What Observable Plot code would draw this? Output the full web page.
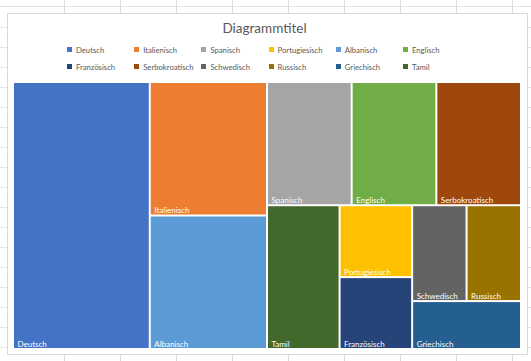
<!DOCTYPE html>
<html>
<head>
<meta charset="utf-8">
<script src="https://cdn.jsdelivr.net/npm/d3@7"></script>
<script src="https://cdn.jsdelivr.net/npm/@observablehq/plot@0.6"></script>
<style>
  html, body { margin: 0; padding: 0; }
  body { width: 531px; height: 361px; overflow: hidden; font-family: Lato, "Liberation Sans", sans-serif; }
  #sheet {
    position: relative; width: 531px; height: 361px; background-color: #fff;
    background-image:
      repeating-linear-gradient(to right, transparent 0, transparent 55px, #dadada 55px, #dadada 56px),
      repeating-linear-gradient(to bottom, transparent 0, transparent 19px, #e4e4e4 19px, #e4e4e4 20px);
    background-position: 9px 0, 0 8px;
  }
  #box {
    position: absolute; left: 7px; top: 13px; width: 519px; height: 340px;
    background: #fff; border: 1px solid #d9d9d9;
  }
  #title {
    position: absolute; left: 0; top: 6px; width: 513px; text-align: center;
    font-size: 13.5px; color: #595959; line-height: 16px;
  }
  .lg { position: absolute; font-size: 7.7px; color: #595959; line-height: 10px; white-space: nowrap; }
  .lg span.sw { display: inline-block; width: 5px; height: 5px; margin-right: 4px; vertical-align: 1px; }
  #plot { position: absolute; left: 13px; top: 82px; }
</style>
</head>
<body>
<div id="sheet">
  <div id="box"><div id="title">Diagrammtitel</div></div>
  <div id="legend"></div>
  <div id="plot"></div>
</div>
<script>
const languages = ["Deutsch", "Italienisch", "Spanisch", "Portugiesisch", "Albanisch", "Englisch",
                   "Französisch", "Serbokroatisch", "Schwedisch", "Russisch", "Griechisch", "Tamil"];
const values = [7, 3, 2, 1, 3, 2, 1, 2, 1, 1, 1, 2];
const colors = ["#4472C4", "#ED7D31", "#A5A5A5", "#FFC000", "#5B9BD5", "#70AD47",
                "#264478", "#9E480E", "#636363", "#997300", "#255E91", "#43682B"];
const title = "Diagrammtitel";

const W = 508, H = 267;

// legend (row-major, 6 columns)
const legend = document.getElementById("legend");
languages.forEach((name, i) => {
  const col = i % 6, row = Math.floor(i / 6);
  const el = document.createElement("div");
  el.className = "lg";
  el.style.left = (67 + col * 67.2) + "px";
  el.style.top = (45 + row * 17) + "px";
  el.innerHTML = `<span class="sw" style="background:${colors[i]}"></span>${name}`;
  legend.appendChild(el);
});
document.getElementById("title").textContent = title;

const table = languages.map((name, i) => ({name, value: values[i]}));
const root = d3.hierarchy({children: table})
  .sum(d => d.value || 0)
  .sort((a, b) => b.value - a.value);
d3.treemap().size([W, H]).tile(d3.treemapSquarify.ratio(1)).round(false)(root);
const leaves = root.leaves();

const chart = Plot.plot({
  width: W, height: H,
  margin: 0,
  style: {background: "transparent", overflow: "visible"},
  x: {domain: [0, W], axis: null},
  y: {domain: [0, H], reverse: true, axis: null},
  color: {domain: languages, range: colors},
  marks: [
    Plot.rect(leaves, {
      x1: d => d.x0, x2: d => d.x1, y1: d => d.y0, y2: d => d.y1,
      fill: d => d.data.name, inset: 1
    }),
    Plot.text(leaves, {
      x: d => d.x0, y: d => d.y1, text: d => d.data.name,
      textAnchor: "start", lineAnchor: "bottom", dx: 4, dy: -3,
      fill: "white", fontSize: 8, fontFamily: "Lato, 'Liberation Sans', sans-serif"
    })
  ]
});
document.getElementById("plot").appendChild(chart);
</script>
</body>
</html>
